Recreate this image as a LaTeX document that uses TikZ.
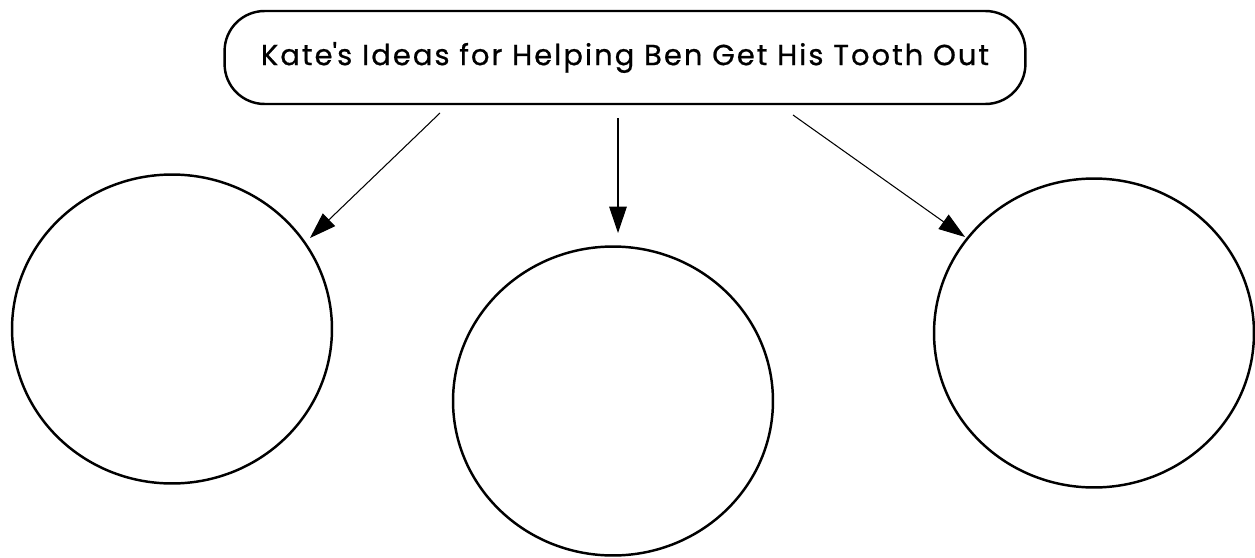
\documentclass[tikz,border=0pt]{standalone}
\usepackage{fontspec}
\setmainfont{Poppins}
\newfontfamily\titlefont{Poppins}[FakeBold=0.7, LetterSpace=7]
\usetikzlibrary{arrows.meta,shapes.geometric}

\begin{document}
\begin{tikzpicture}[x=0.02cm, y=-0.02cm,
  bubble/.style={draw, ellipse, line width=1.4pt, minimum width=6.4cm, minimum height=6.18cm, inner sep=0pt},
  idea/.style={-{Triangle[length=15pt,width=10pt]}, line width=0.6pt}]
\useasboundingbox (0,0) rectangle (1255,558);
\node[draw, rounded corners=0.8cm, line width=1.4pt, minimum width=16.02cm, minimum height=1.86cm, font=\titlefont\fontsize{16.5}{19}\selectfont] (title) at (625,57.5) {Kate\textquotesingle s Ideas for Helping Ben Get His Tooth Out};
\node[bubble] (left) at (172,329) {};
\node[bubble] (mid) at (613,401) {};
\node[bubble] (right) at (1094,333) {};
\coordinate (s1) at (440,113); \coordinate (t1) at (310,238);
\coordinate (s2) at (618,118); \coordinate (t2) at (618,233);
\coordinate (s3) at (793,115); \coordinate (t3) at (965,237);
\draw[idea] (s1) -- (t1); \draw[idea] (s2) -- (t2); \draw[idea] (s3) -- (t3);
\end{tikzpicture}
\end{document}
